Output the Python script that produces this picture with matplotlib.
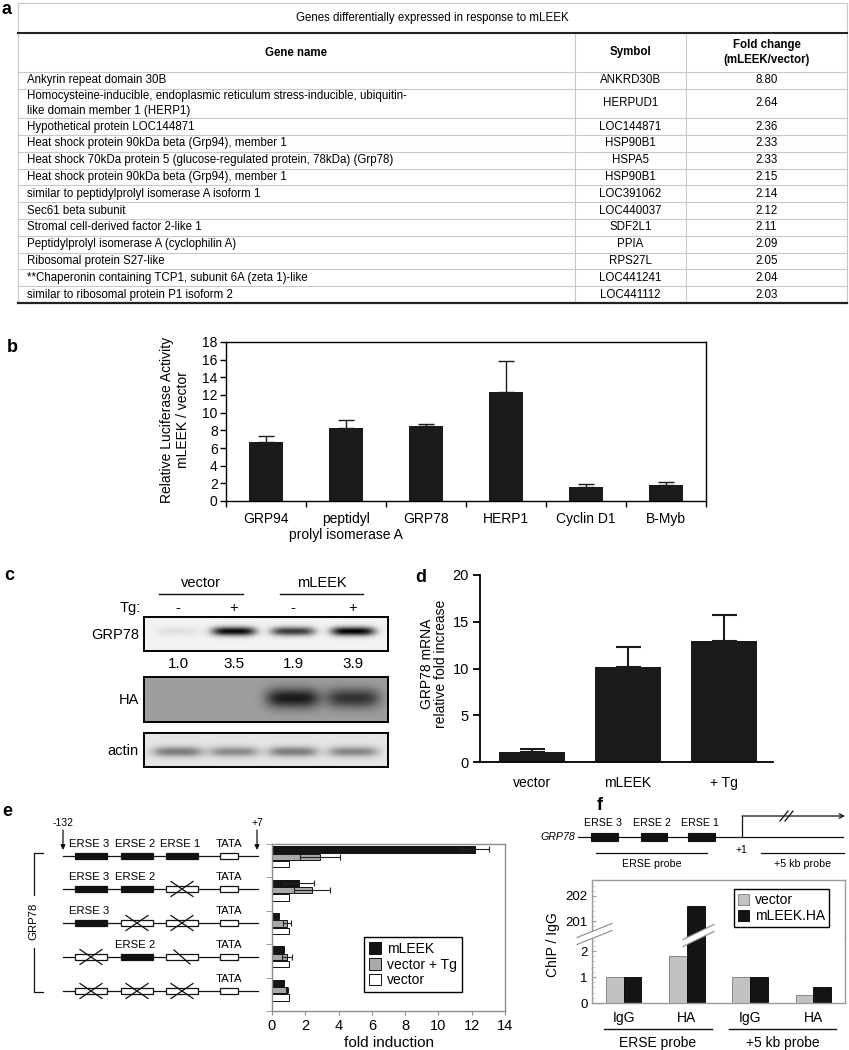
import numpy as np
import matplotlib
matplotlib.use('Agg')
import matplotlib.pyplot as plt
from matplotlib.patches import Rectangle, Polygon

plt.rcParams['font.family'] = ['Liberation Sans', 'DejaVu Sans']

W, H = 849, 1050

# ------------------------------------------------------------------ data
table_title = "Genes differentially expressed in response to mLEEK"
table_headers = ["Gene name", "Symbol", "Fold change\n(mLEEK/vector)"]
gene_names = [
    "Ankyrin repeat domain 30B",
    "Homocysteine-inducible, endoplasmic reticulum stress-inducible, ubiquitin-\nlike domain member 1 (HERP1)",
    "Hypothetical protein LOC144871",
    "Heat shock protein 90kDa beta (Grp94), member 1",
    "Heat shock 70kDa protein 5 (glucose-regulated protein, 78kDa) (Grp78)",
    "Heat shock protein 90kDa beta (Grp94), member 1",
    "similar to peptidylprolyl isomerase A isoform 1",
    "Sec61 beta subunit",
    "Stromal cell-derived factor 2-like 1",
    "Peptidylprolyl isomerase A (cyclophilin A)",
    "Ribosomal protein S27-like",
    "**Chaperonin containing TCP1, subunit 6A (zeta 1)-like",
    "similar to ribosomal protein P1 isoform 2",
]
gene_symbols = ["ANKRD30B", "HERPUD1", "LOC144871", "HSP90B1", "HSPA5", "HSP90B1",
                "LOC391062", "LOC440037", "SDF2L1", "PPIA", "RPS27L", "LOC441241", "LOC441112"]
fold_changes = [8.80, 2.64, 2.36, 2.33, 2.33, 2.15, 2.14, 2.12, 2.11, 2.09, 2.05, 2.04, 2.03]

b_categories = ["GRP94", "peptidyl\nprolyl isomerase A", "GRP78", "HERP1", "Cyclin D1", "B-Myb"]
b_values = [6.7, 8.3, 8.5, 12.3, 1.6, 1.8]
b_errors = [0.7, 0.9, 0.2, 3.5, 0.3, 0.4]
b_yticks = [0, 2, 4, 6, 8, 10, 12, 14, 16, 18]
b_ylabel = "Relative Luciferase Activity\nmLEEK / vector"

c_groups = ["vector", "mLEEK"]
c_tg = ["-", "+", "-", "+"]
c_blots = ["GRP78", "HA", "actin"]
c_quant = ["1.0", "3.5", "1.9", "3.9"]
c_grp78_bands = [0.07, 0.92, 0.72, 0.95]
c_ha_bands = [0.0, 0.0, 0.52, 0.42]
c_actin_bands = [0.42, 0.36, 0.42, 0.38]

d_categories = ["vector", "mLEEK", "+ Tg"]
d_values = [1.05, 10.2, 12.9]
d_errors = [0.35, 2.1, 2.8]
d_yticks = [0, 5, 10, 15, 20]
d_ylabel = "GRP78 mRNA\nrelative fold increase"

e_series = ["mLEEK", "vector + Tg", "vector"]
e_mleek = [12.2, 1.6, 0.4, 0.7, 0.75]
e_mleek_err = [0.85, 0.9, 0.0, 0.0, 0.0]
e_tg = [2.9, 2.4, 0.9, 0.9, 0.9]
e_tg_err = [1.2, 1.1, 0.25, 0.3, 0.08]
e_vector = [1.0, 1.0, 1.0, 1.0, 1.0]
e_xticks = [0, 2, 4, 6, 8, 10, 12, 14]
e_elements = ["ERSE 3", "ERSE 2", "ERSE 1", "TATA"]
e_constructs = [["wt", "wt", "wt", "wt"],
                ["wt", "wt", "mut", "wt"],
                ["wt", "mut", "mut", "wt"],
                ["mut", "wt", "half", "wt"],
                ["mut", "mut", "mut", "wt"]]

f_groups = ["IgG", "HA", "IgG", "HA"]
f_probes = ["ERSE probe", "+5 kb probe"]
f_series = ["vector", "mLEEK.HA"]
f_vector = [1.0, 1.8, 1.0, 0.3]
f_mleek = [1.0, 201.6, 1.0, 0.6]

# ------------------------------------------------------------------ figure
fig = plt.figure(figsize=(W / 100, H / 100), dpi=100)


def box(x0, y0, x1, y1, **kw):
    return fig.add_axes([x0 / W, 1 - y1 / H, (x1 - x0) / W, (y1 - y0) / H], **kw)


ov = fig.add_axes([0, 0, 1, 1], zorder=10)
ov.set_xlim(0, W)
ov.set_ylim(H, 0)
ov.axis('off')
ov.patch.set_alpha(0)

K = '#111111'
LG = '#c9c9c9'

# panel labels
for lab, (x, y) in zip("abcdef", [(7, 10), (12, 347), (9, 575), (421, 577), (7, 812), (600, 805)]):
    ov.text(x, y, lab, fontsize=13, fontweight='bold', ha='center', va='center')

# ------------------------------------------------------------------ a: table
tx0, tx1 = 18, 847
col1, col2 = 575, 686
ty_top, ty_line, ty_head = 3, 33, 72
row_h = 16.8
heights = [row_h * (1.75 if '\n' in g else 1.0) for g in gene_names]
edges = [ty_head]
for hh in heights:
    edges.append(edges[-1] + hh)
ty_bot = edges[-1]
fs_t = 8.3

ov.plot([tx0, tx1], [ty_top, ty_top], color=LG, lw=0.8)
for xx in (tx0, tx1):
    ov.plot([xx, xx], [ty_top, ty_bot], color=LG, lw=0.8)
for xx in (col1, col2):
    ov.plot([xx, xx], [ty_line, ty_bot], color=LG, lw=0.8)
ov.plot([tx0, tx1], [ty_line, ty_line], color='#222222', lw=1.5)
for yy in edges[:-1]:
    ov.plot([tx0, tx1], [yy, yy], color=LG, lw=0.8)
ov.plot([tx0, tx1], [ty_bot, ty_bot], color='#222222', lw=1.6)

ov.text((tx0 + tx1) / 2, (ty_top + ty_line) / 2, table_title, fontsize=fs_t, ha='center', va='center')
hy = (ty_line + ty_head) / 2
for txt, xc in zip(table_headers, [(tx0 + col1) / 2, (col1 + col2) / 2, (col2 + tx1) / 2]):
    ov.text(xc, hy, txt, fontsize=fs_t, fontweight='bold', ha='center', va='center', linespacing=1.3)
for i, (g, s, v) in enumerate(zip(gene_names, gene_symbols, fold_changes)):
    yc = (edges[i] + edges[i + 1]) / 2
    ov.text(27, yc, g, fontsize=fs_t, ha='left', va='center', linespacing=1.3)
    ov.text((col1 + col2) / 2, yc, s, fontsize=fs_t, ha='center', va='center')
    ov.text((col2 + tx1) / 2, yc, f"{v:.2f}", fontsize=fs_t, ha='center', va='center')

# ------------------------------------------------------------------ b
bx = box(226, 342, 706, 501)
xb = np.arange(len(b_categories))
bx.bar(xb, b_values, width=0.43, color='#1a1a1a', zorder=2)
bx.errorbar(xb, b_values, yerr=[np.zeros(len(b_values)), b_errors], fmt='none',
            ecolor='#1a1a1a', elinewidth=1, capsize=6, capthick=1, zorder=1)
bx.set_xlim(-0.5, len(b_categories) - 0.5)
bx.set_ylim(0, 18)
bx.set_yticks(b_yticks)
bx.set_xticks(xb)
bx.set_xticklabels(b_categories, fontsize=10)
bx.tick_params(axis='x', which='major', length=0, pad=8)
bx.set_xticks(np.arange(-0.5, len(b_categories), 1), minor=True)
bx.tick_params(axis='x', which='minor', length=4, width=1, direction='out')
bx.tick_params(axis='y', length=4, width=1, labelsize=10, pad=2)
for s in bx.spines.values():
    s.set_linewidth(1)
ov.text(175, 420, b_ylabel, rotation=90, fontsize=10, ha='center', va='center', linespacing=1.1)

# ------------------------------------------------------------------ c: blots
lane_x = [178, 234, 293, 353]
c_box_x = (144, 388)
blot_boxes = [(617, 651), (677, 722), (733, 767)]
blot_params = [  # background, band list, centre y frac, half-height frac, half-width px
    (0.95, c_grp78_bands, 0.42, 0.13, 22),
    (0.62, c_ha_bands, 0.47, 0.22, 27),
    (0.90, c_actin_bands, 0.55, 0.15, 25),
]
for (y0, y1), (bg, bands, cy, hh, hw), name in zip(blot_boxes, blot_params, c_blots):
    a = box(c_box_x[0], y0, c_box_x[1], y1)
    nh, nw = 80, 488
    yy, xx = np.mgrid[0:nh, 0:nw]
    xp = c_box_x[0] + (xx + 0.5) / nw * (c_box_x[1] - c_box_x[0])
    yf = (yy + 0.5) / nh
    img = np.full((nh, nw), bg)
    for lx, dk in zip(lane_x, bands):
        img -= dk * np.exp(-((xp - lx) / hw) ** 4) * np.exp(-((yf - cy) / hh) ** 2)
    img = np.clip(img, 0, 1)
    a.imshow(img, cmap='gray', vmin=0, vmax=1, extent=(0, 1, 1, 0), aspect='auto', interpolation='bilinear')
    a.set_xlim(0, 1)
    a.set_ylim(1, 0)
    a.set_xticks([])
    a.set_yticks([])
    for s in a.spines.values():
        s.set_linewidth(1.4)
    ov.text(139, (y0 + y1) / 2 + 1, name, fontsize=10.5, ha='right', va='center')

for g, (x0, x1) in zip(c_groups, [(159, 243), (280, 363)]):
    ov.text((x0 + x1) / 2, 583, g, fontsize=10.5, ha='center', va='center')
    ov.plot([x0, x1], [594, 594], color=K, lw=1)
ov.text(141, 608, "Tg:", fontsize=10.5, ha='right', va='center')
for lx, s in zip(lane_x, c_tg):
    ov.text(lx, 608, s, fontsize=10.5, ha='center', va='center')
for lx, s in zip(lane_x, c_quant):
    ov.text(lx, 664, s, fontsize=11, ha='center', va='center')

# ------------------------------------------------------------------ d
dx = box(480, 575, 773, 762)
xd = np.arange(len(d_categories))
dx.bar(xd, d_values, width=0.69, color='#1a1a1a', zorder=2)
dx.errorbar(xd, d_values, yerr=[np.zeros(len(d_values)), d_errors], fmt='none',
            ecolor='#1a1a1a', elinewidth=1.5, capsize=9, capthick=1.5, zorder=1)
dx.set_xlim(-0.54, 2.51)
dx.set_ylim(0, 20)
dx.set_yticks(d_yticks)
dx.set_xticks(xd)
dx.set_xticklabels(d_categories, fontsize=10)
dx.tick_params(axis='x', length=0, pad=10)
dx.tick_params(axis='y', length=5, width=1.3, labelsize=10.5, pad=3)
for s in ['top', 'right']:
    dx.spines[s].set_visible(False)
for s in ['left', 'bottom']:
    dx.spines[s].set_linewidth(1.3)
ov.text(434, 664, d_ylabel, rotation=90, fontsize=10, ha='center', va='center', linespacing=1.05)

# ------------------------------------------------------------------ e: diagram
row_y = [856, 889, 923, 957, 991]
el_x = [(75, 107), (121, 153), (166, 198), (220, 238)]
bh = 6
for y, cons in zip(row_y, e_constructs):
    ov.plot([63, 258], [y, y], color=K, lw=0.9)
    for j, (st, name) in enumerate(zip(cons, e_elements)):
        x0, x1 = el_x[j]
        xc = (x0 + x1) / 2
        if j == 3:
            ov.add_patch(Rectangle((x0, y - bh / 2), x1 - x0, bh, fc='white', ec=K, lw=0.9, zorder=3))
        elif st == 'wt':
            ov.add_patch(Rectangle((x0, y - bh / 2), x1 - x0, bh, fc=K, ec=K, lw=0.9, zorder=3))
        else:
            ov.add_patch(Rectangle((x0, y - bh / 2), x1 - x0, bh, fc='white', ec=K, lw=0.9, zorder=3))
            if st == 'mut':
                ov.plot([xc - 11, xc + 11], [y - 7.5, y + 7.5], color=K, lw=0.9, zorder=4)
                ov.plot([xc - 11, xc + 11], [y + 7.5, y - 7.5], color=K, lw=0.9, zorder=4)
            else:
                ov.plot([xc - 8, xc + 8], [y - 7, y + 7], color=K, lw=0.9, zorder=4)
        if st == 'wt':
            ov.text(xc - 2 if j < 3 else xc, y - 12, name, fontsize=8.2, ha='center', va='center')
ov.text(63, 823, "-132", fontsize=7.5, ha='center', va='center')
ov.text(257, 823, "+7", fontsize=7.5, ha='center', va='center')
for xx in (63, 257):
    ov.annotate('', xy=(xx, 850), xytext=(xx, 830),
                arrowprops=dict(arrowstyle='-|>', lw=0.9, color=K, mutation_scale=7, shrinkA=0, shrinkB=0))
ov.plot([43, 34, 34], [853, 853, 895], color=K, lw=0.9)
ov.plot([34, 34, 43], [948, 992, 992], color=K, lw=0.9)
ov.text(33, 921, "GRP78", rotation=90, fontsize=8.2, ha='center', va='center')

# ------------------------------------------------------------------ e: bars
ex = box(272, 844, 505, 1011)
ye = np.arange(len(e_mleek))
offs = [-0.34, -0.12, 0.10]
cols = ['#151515', '#a9a9a9', 'white']
vals_e = [e_mleek, e_tg, e_vector]
errs_e = [e_mleek_err, e_tg_err, [0.0] * len(e_vector)]
for off, col, vals, errs, lab in zip(offs, cols, vals_e, errs_e, e_series):
    ex.barh(ye + off, vals, height=0.19, color=col, edgecolor='#111111', lw=0.7, label=lab, zorder=2)
    vv = np.array(vals)
    ee = np.array(errs)
    m = ee > 0
    if m.any():
        ex.errorbar(vv[m], (ye + off)[m], xerr=ee[m], fmt='none', ecolor='#222222',
                    elinewidth=0.8, capsize=2, capthick=0.8, zorder=3)
ex.set_xlim(0, 14)
ex.set_ylim(len(e_mleek) - 0.5, -0.5)
ex.set_xticks(e_xticks)
ex.tick_params(axis='x', length=3, color='#8c8c8c', labelsize=10.5, pad=3)
ex.set_yticks([])
ex.set_yticks(np.arange(-0.5, len(e_mleek), 1), minor=True)
ex.tick_params(axis='y', which='minor', length=4, color='#8c8c8c')
for s in ex.spines.values():
    s.set_color('#8c8c8c')
    s.set_linewidth(1)
ex.set_xlabel("fold induction", fontsize=11, labelpad=2)
leg = ex.legend(loc='upper left', bbox_to_anchor=(364 / W, 1 - 937 / H), bbox_transform=fig.transFigure,
                fontsize=10, fancybox=False, edgecolor='k', framealpha=1, handlelength=0.9,
                handleheight=0.9, handletextpad=0.4, borderpad=0.35, labelspacing=0.12, borderaxespad=0)
leg.get_frame().set_linewidth(1)

# ------------------------------------------------------------------ f: diagram
ov.plot([578, 843], [837, 837], color=K, lw=0.9)
f_el_x = [(591, 618), (641, 667), (688, 715)]
for (x0, x1), name in zip(f_el_x, e_elements[:3]):
    ov.add_patch(Rectangle((x0, 833), x1 - x0, 8, fc=K, ec=K, lw=0.8, zorder=3))
    ov.text((x0 + x1) / 2 - 2, 823, name, fontsize=7.7, ha='center', va='center')
ov.text(575, 837, "GRP78", fontsize=7.7, fontstyle='italic', ha='right', va='center')
ov.plot([742, 742], [837, 816], color=K, lw=0.9)
ov.annotate('', xy=(845, 816), xytext=(742, 816),
            arrowprops=dict(arrowstyle='->', lw=0.9, color=K, shrinkA=0, shrinkB=0, mutation_scale=8))
for dxs in (0, 5):
    ov.plot([780 + dxs, 788 + dxs], [821, 811], color=K, lw=0.9)
ov.text(741, 850, "+1", fontsize=7.5, ha='center', va='center')
for (x0, x1), lab in zip([(596, 707), (761, 844)], f_probes):
    ov.plot([x0, x1], [853, 853], color=K, lw=0.9)
    ov.text((x0 + x1) / 2, 864, lab, fontsize=7.7, ha='center', va='center')

# ------------------------------------------------------------------ f: bars (broken axis)
fl = box(592, 936, 845, 1003)
fu = box(592, 880, 845, 936)
xf = np.arange(len(f_groups))
GR = '#9a9a9a'
for a in (fl, fu):
    a.bar(xf - 0.14, f_vector, width=0.28, color='#c2c2c2', edgecolor='#7a7a7a', lw=0.6, label=f_series[0])
    a.bar(xf + 0.14, f_mleek, width=0.28, color='#141414', edgecolor='k', lw=0.6, label=f_series[1])
    a.set_xlim(-0.5, len(f_groups) - 0.5)
    for s in a.spines.values():
        s.set_color(GR)
        s.set_linewidth(1)
    a.tick_params(axis='y', direction='in', length=3, color=GR, labelsize=9.5, pad=3)
fl.spines['top'].set_visible(False)
fu.spines['bottom'].set_visible(False)
fl.set_ylim(0, 2.58)
fl.set_yticks([0, 1, 2])
fu.set_ylim(200.4, 202.64)
fu.set_yticks([201, 202])
fl.set_yticks(np.arange(0, 2.6, 0.2), minor=True)
fu.set_yticks(np.arange(200.6, 202.6, 0.2), minor=True)
for a in (fl, fu):
    a.tick_params(axis='y', which='minor', direction='in', length=2, color='#c8c8c8')
fu.set_xticks([])
fl.set_xticks(xf)
fl.set_xticklabels(f_groups, fontsize=10)
fl.tick_params(axis='x', length=0, pad=6)
legf = fu.legend(loc='upper left', bbox_to_anchor=(734 / W, 1 - 889 / H), bbox_transform=fig.transFigure,
                 fontsize=10, fancybox=False, edgecolor='k', framealpha=1, handlelength=0.8,
                 handleheight=0.8, handletextpad=0.4, borderpad=0.3, labelspacing=0.15, borderaxespad=0)
legf.get_frame().set_linewidth(1)
ov.text(553, 945, "ChIP / IgG", rotation=90, fontsize=10, ha='center', va='center')
for (x0, x1), lab in zip([(604, 712), (729, 836)], f_probes):
    ov.plot([x0, x1], [1029, 1029], color=K, lw=1)
    ov.text((x0 + x1) / 2, 1043, lab, fontsize=10, ha='center', va='center')

# axis-break bands
for (xa, ya, xb2, yb2) in [(577, 941, 612, 927), (683, 943, 714, 928)]:
    t = 3.5
    ov.add_patch(Polygon([(xa, ya - t), (xb2, yb2 - t), (xb2, yb2 + t), (xa, ya + t)],
                         closed=True, fc='white', ec='none', zorder=5))
    ov.plot([xa, xb2], [ya - t, yb2 - t], color='#8a8a8a', lw=0.8, zorder=6)
    ov.plot([xa, xb2], [ya + t, yb2 + t], color='#8a8a8a', lw=0.8, zorder=6)

fig.savefig('out.png', dpi=100)
